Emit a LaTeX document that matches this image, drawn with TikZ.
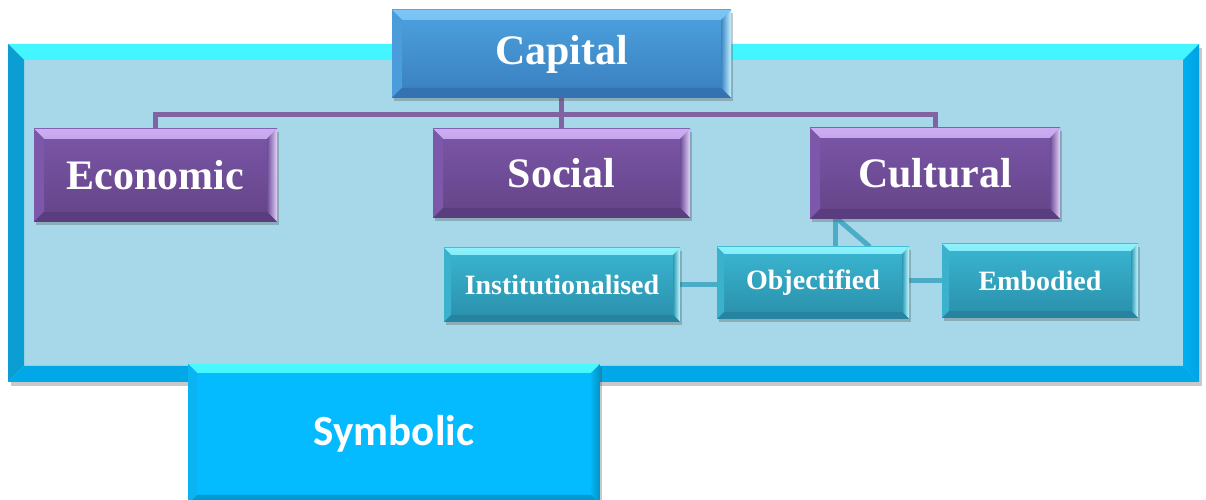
\documentclass[tikz,border=0pt]{standalone}
\usepackage{fontspec}
\setmainfont{Liberation Serif}
\newfontfamily\calib{Carlito}
\usetikzlibrary{shadows}
\pgfdeclarelayer{back}
\pgfdeclarelayer{mid}
\pgfsetlayers{back,mid,main}
\definecolor{capT}{HTML}{4CA2DF}\definecolor{capB}{HTML}{3A7EBE}
\definecolor{capA}{HTML}{7CC6F5}\definecolor{capC}{HTML}{4FA3DE}\definecolor{capL}{HTML}{4A9DDA}
\definecolor{capRi}{HTML}{3C84C4}\definecolor{capRo}{HTML}{C4F2FF}\definecolor{capBo}{HTML}{3472B2}
\definecolor{purT}{HTML}{7B56A8}\definecolor{purB}{HTML}{644487}
\definecolor{purA}{HTML}{CDAEF2}\definecolor{purC}{HTML}{8460B2}\definecolor{purL}{HTML}{7D58AA}
\definecolor{purRi}{HTML}{6C4C98}\definecolor{purRo}{HTML}{E4D2FA}\definecolor{purBo}{HTML}{5A3D7F}
\definecolor{tealT}{HTML}{3AB6D2}\definecolor{tealB}{HTML}{2A8FAA}
\definecolor{tealA}{HTML}{8CF2FC}\definecolor{tealC}{HTML}{40BAD5}\definecolor{tealL}{HTML}{3AB2CE}
\definecolor{tealRi}{HTML}{2E98B4}\definecolor{tealRo}{HTML}{C4FAFF}\definecolor{tealBo}{HTML}{2684A0}
\definecolor{symF}{HTML}{05BBFF}
\definecolor{symA}{HTML}{4AF8FF}\definecolor{symC}{HTML}{14C6FF}\definecolor{symL}{HTML}{0AB4F2}
\definecolor{symRi}{HTML}{05B4F2}\definecolor{symRo}{HTML}{0092C8}\definecolor{symBo}{HTML}{009AD2}
\definecolor{frF}{HTML}{A6D8EA}
\definecolor{frA}{HTML}{44F6FF}\definecolor{frC}{HTML}{30E2FA}\definecolor{frL}{HTML}{0A9ED2}
\definecolor{frRi}{HTML}{00B0F0}\definecolor{frRo}{HTML}{00A2E2}\definecolor{frBo}{HTML}{00A8E8}
\definecolor{purLine}{HTML}{8064A2}
\definecolor{tealLine}{HTML}{4BACC6}
% depth, top-outer, top-inner, left, right-inner, right-outer, bottom
\newcommand\bevelpp[7]{%
  \shade[top color=#2, bottom color=#3] (path picture bounding box.north west) -- (path picture bounding box.north east)
     -- ([shift={(-#1,-#1)}]path picture bounding box.north east) -- ([shift={(#1,-#1)}]path picture bounding box.north west) -- cycle;
  \fill[#4] (path picture bounding box.north west) -- ([shift={(#1,-#1)}]path picture bounding box.north west)
     -- ([shift={(#1,#1)}]path picture bounding box.south west) -- (path picture bounding box.south west) -- cycle;
  \shade[left color=#5, right color=#6] (path picture bounding box.north east) -- ([shift={(-#1,-#1)}]path picture bounding box.north east)
     -- ([shift={(-#1,#1)}]path picture bounding box.south east) -- (path picture bounding box.south east) -- cycle;
  \fill[#7] (path picture bounding box.south west) -- ([shift={(#1,#1)}]path picture bounding box.south west)
     -- ([shift={(-#1,#1)}]path picture bounding box.south east) -- (path picture bounding box.south east) -- cycle;
}
\tikzset{
  x=1pt, y=1pt,
  box/.style={inner sep=0pt, text=white, align=center,
    drop shadow={shadow xshift=2pt, shadow yshift=-3pt, opacity=0.3, fill=black!70}},
  capbox/.style={box, top color=capT, bottom color=capB,
    path picture={\bevelpp{10pt}{capA}{capC}{capL}{capRi}{capRo}{capBo}},
    font=\fontsize{42}{48}\selectfont\bfseries},
  purbox/.style={box, top color=purT, bottom color=purB,
    path picture={\bevelpp{10pt}{purA}{purC}{purL}{purRi}{purRo}{purBo}},
    font=\fontsize{42}{48}\selectfont\bfseries},
  tealbox/.style={box, top color=tealT, bottom color=tealB,
    path picture={\bevelpp{7pt}{tealA}{tealC}{tealL}{tealRi}{tealRo}{tealBo}},
    font=\fontsize{28}{32}\selectfont\bfseries},
  symbox/.style={box, fill=symF,
    path picture={\bevelpp{9pt}{symA}{symC}{symL}{symRi}{symRo}{symBo}},
    font=\fontsize{43}{48}\calib\bfseries},
  framebox/.style={inner sep=0pt, fill=frF,
    drop shadow={shadow xshift=3pt, shadow yshift=-4pt, opacity=0.3, fill=black!70},
    path picture={\bevelpp{16pt}{frA}{frC}{frL}{frRi}{frRo}{frBo}}},
  purline/.style={draw=purLine, line width=5pt},
  tealline/.style={draw=tealLine, line width=5pt},
}
\begin{document}
\begin{tikzpicture}
\useasboundingbox (0,0) rectangle (1206,500);
\begin{pgfonlayer}{back}
\node[framebox, minimum width=1191pt, minimum height=338pt] (frame) at (603.5,287) {};
\end{pgfonlayer}
\node[capbox, minimum width=339pt, minimum height=88pt] (cap) at (561.5,446) {Capital};
\node[purbox, minimum width=243pt, minimum height=93pt] (econ) at (155.5,324.5) {Economic};
\node[purbox, minimum width=257pt, minimum height=89pt] (soc) at (561.5,326.5) {Social};
\node[purbox, minimum width=250pt, minimum height=91pt] (cult) at (935,326.5) {Cultural};
\node[tealbox, minimum width=236pt, minimum height=74pt] (inst) at (562,215) {Institutionalised};
\node[tealbox, minimum width=192pt, minimum height=72pt] (obj) at (813,217) {Objectified};
\node[tealbox, minimum width=196pt, minimum height=74pt] (emb) at (1040,219) {Embodied};
\node[symbox, minimum width=412pt, minimum height=140pt] (sym) at (394,66) {Symbolic};
\coordinate (bus) at (561.5,385);
\begin{pgfonlayer}{mid}
\draw[purline] (cap.south) -- (soc.north);
\draw[purline] (econ.north) |- (bus) -| (cult.north);
\draw[tealline] ([xshift=26pt]cult.south west) -- ([xshift=26pt]cult.south west |- obj.north);
\draw[tealline] ([xshift=28pt]cult.south west) -- ([xshift=153pt]obj.north west);
\draw[tealline] (inst.east) -- (inst.east -| obj.west);
\draw[tealline] (obj.east |- emb.west) -- (emb.west);
\end{pgfonlayer}
\end{tikzpicture}
\end{document}
